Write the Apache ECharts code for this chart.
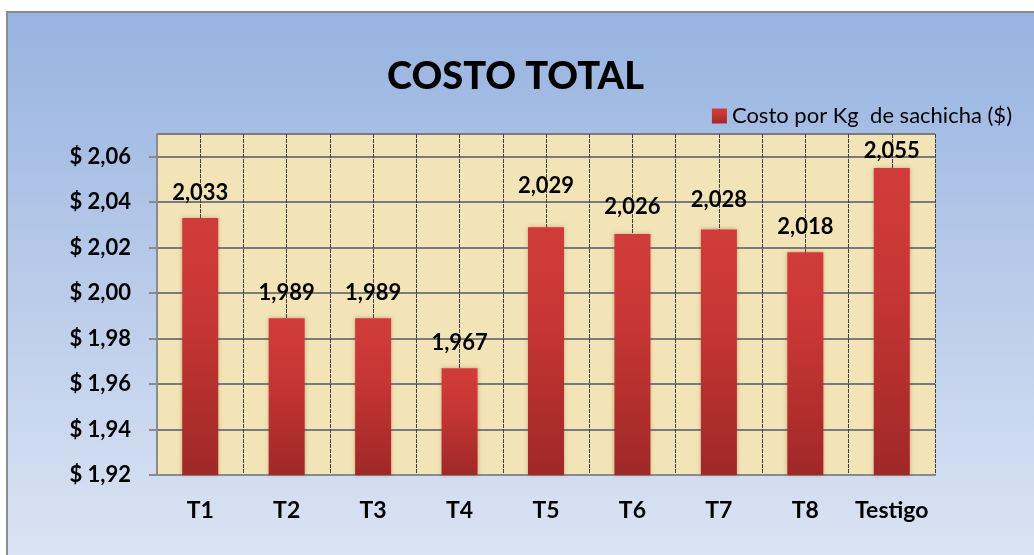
<!DOCTYPE html>
<html>
<head>
<meta charset="utf-8">
<script src="https://cdn.jsdelivr.net/npm/echarts@6/dist/echarts.min.js"></script>
<style>
  html, body { margin: 0; padding: 0; background: #ffffff; }
  #costoChart { width: 1034px; height: 555px; }
</style>
</head>
<body>
<div id="costoChart"></div>
<script>
// tratamientos
var tratamientos = ['T1', 'T2', 'T3', 'T4', 'T5', 'T6', 'T7', 'T8', 'Testigo'];
// costo por Kg de salchicha ($)
var costos = [2.033, 1.989, 1.989, 1.967, 2.029, 2.026, 2.028, 2.018, 2.055];
// eje y
var yMin = 1.92;
var yMax = 2.07;
var yPaso = 0.02;

var nombreSerie = 'Costo por Kg  de sachicha ($)';

// distancia de la etiqueta sobre la barra (Excel las movio un poco)
var distEtiqueta = [14, 14, 14, 14, 30, 16, 19, 14, 6];

var costoChart = echarts.init(document.getElementById('costoChart'));

var fuente = 'Lato';

// eje auxiliar: 2 divisiones por categoria para las lineas verticales
var medias = [];
for (var i = 0; i < tratamientos.length * 2; i++) {
	medias.push('');
}

var datos = [];
for (var i = 0; i < costos.length; i++) {
	datos.push({
		value : costos[i],
		label : { distance : distEtiqueta[i] }
	});
}

var option = {
	backgroundColor : '#ffffff',
	textStyle : { fontFamily : fuente },
	graphic : [ {
		type : 'rect',
		z : -10,
		shape : { x : 7, y : 12, width : 1040, height : 560 },
		style : {
			fill : new echarts.graphic.LinearGradient(0, 0, 0, 1, [
				{ offset : 0, color : '#97b3e0' },
				{ offset : 1, color : '#dde5f4' }
			]),
			stroke : '#8c8c8c',
			lineWidth : 2
		}
	} ],
	title : {
		text : 'COSTO TOTAL',
		left : 382,
		top : 53,
		textStyle : {
			fontFamily : fuente,
			fontSize : 38,
			fontWeight : 900,
			color : '#000000'
		}
	},
	legend : {
		data : [ nombreSerie ],
		right : 17,
		top : 100,
		itemWidth : 15,
		itemHeight : 15,
		itemGap : 5,
		icon : 'rect',
		textStyle : {
			fontFamily : fuente,
			fontSize : 22,
			color : '#000000'
		}
	},
	grid : {
		left : 157,
		top : 134,
		width : 778,
		height : 341,
		show : true,
		backgroundColor : '#f2e4b6',
		borderWidth : 0
	},
	xAxis : [ {
		type : 'category',
		data : tratamientos,
		axisLine : { lineStyle : { color : '#8a8a8a', width : 2 } },
		axisTick : { interval : 0, alignWithLabel : false, length : 8, lineStyle : { color : '#8a8a8a', width : 2 } },
		axisLabel : {
			interval : 0,
			margin : 24,
			fontFamily : fuente,
			fontSize : 23,
			fontWeight : 'bold',
			color : '#000000'
		},
		splitLine : { show : false }
	}, {
		type : 'category',
		data : medias,
		position : 'bottom',
		axisLine : { show : false },
		axisTick : { show : false },
		axisLabel : { show : false },
		splitLine : {
			show : true,
			interval : 0,
			lineStyle : { color : '#404040', width : 1, type : [ 4, 1 ] }
		}
	} ],
	yAxis : {
		type : 'value',
		min : yMin,
		max : yMax,
		interval : yPaso,
		axisLine : { show : true, lineStyle : { color : '#8a8a8a', width : 2 } },
		axisTick : { show : true, length : 8, lineStyle : { color : '#8a8a8a', width : 2 } },
		axisLabel : {
			margin : 26,
			showMaxLabel : false,
			fontFamily : fuente,
			fontSize : 22,
			fontWeight : 'bold',
			color : '#000000',
			formatter : function(v) {
				return '$ ' + v.toFixed(2).replace('.', ',');
			}
		},
		splitLine : {
			show : true,
			lineStyle : { color : '#7a7a7a', width : 2 }
		}
	},
	series : [ {
		name : nombreSerie,
		type : 'bar',
		xAxisIndex : 0,
		barWidth : 36,
		data : datos,
		itemStyle : {
			color : new echarts.graphic.LinearGradient(0, 0, 0, 1, [
				{ offset : 0, color : '#d13c3a' },
				{ offset : 0.35, color : '#c83735' },
				{ offset : 1, color : '#a02828' }
			]),
			shadowBlur : 4,
			shadowColor : 'rgba(120, 40, 20, 0.35)'
		},
		label : {
			show : true,
			position : 'top',
			fontFamily : fuente,
			fontSize : 22,
			fontWeight : 'bold',
			color : '#000000',
			formatter : function(p) {
				return p.value.toFixed(3).replace('.', ',');
			}
		}
	} ]
};

costoChart.setOption(option);
</script>
</body>
</html>
